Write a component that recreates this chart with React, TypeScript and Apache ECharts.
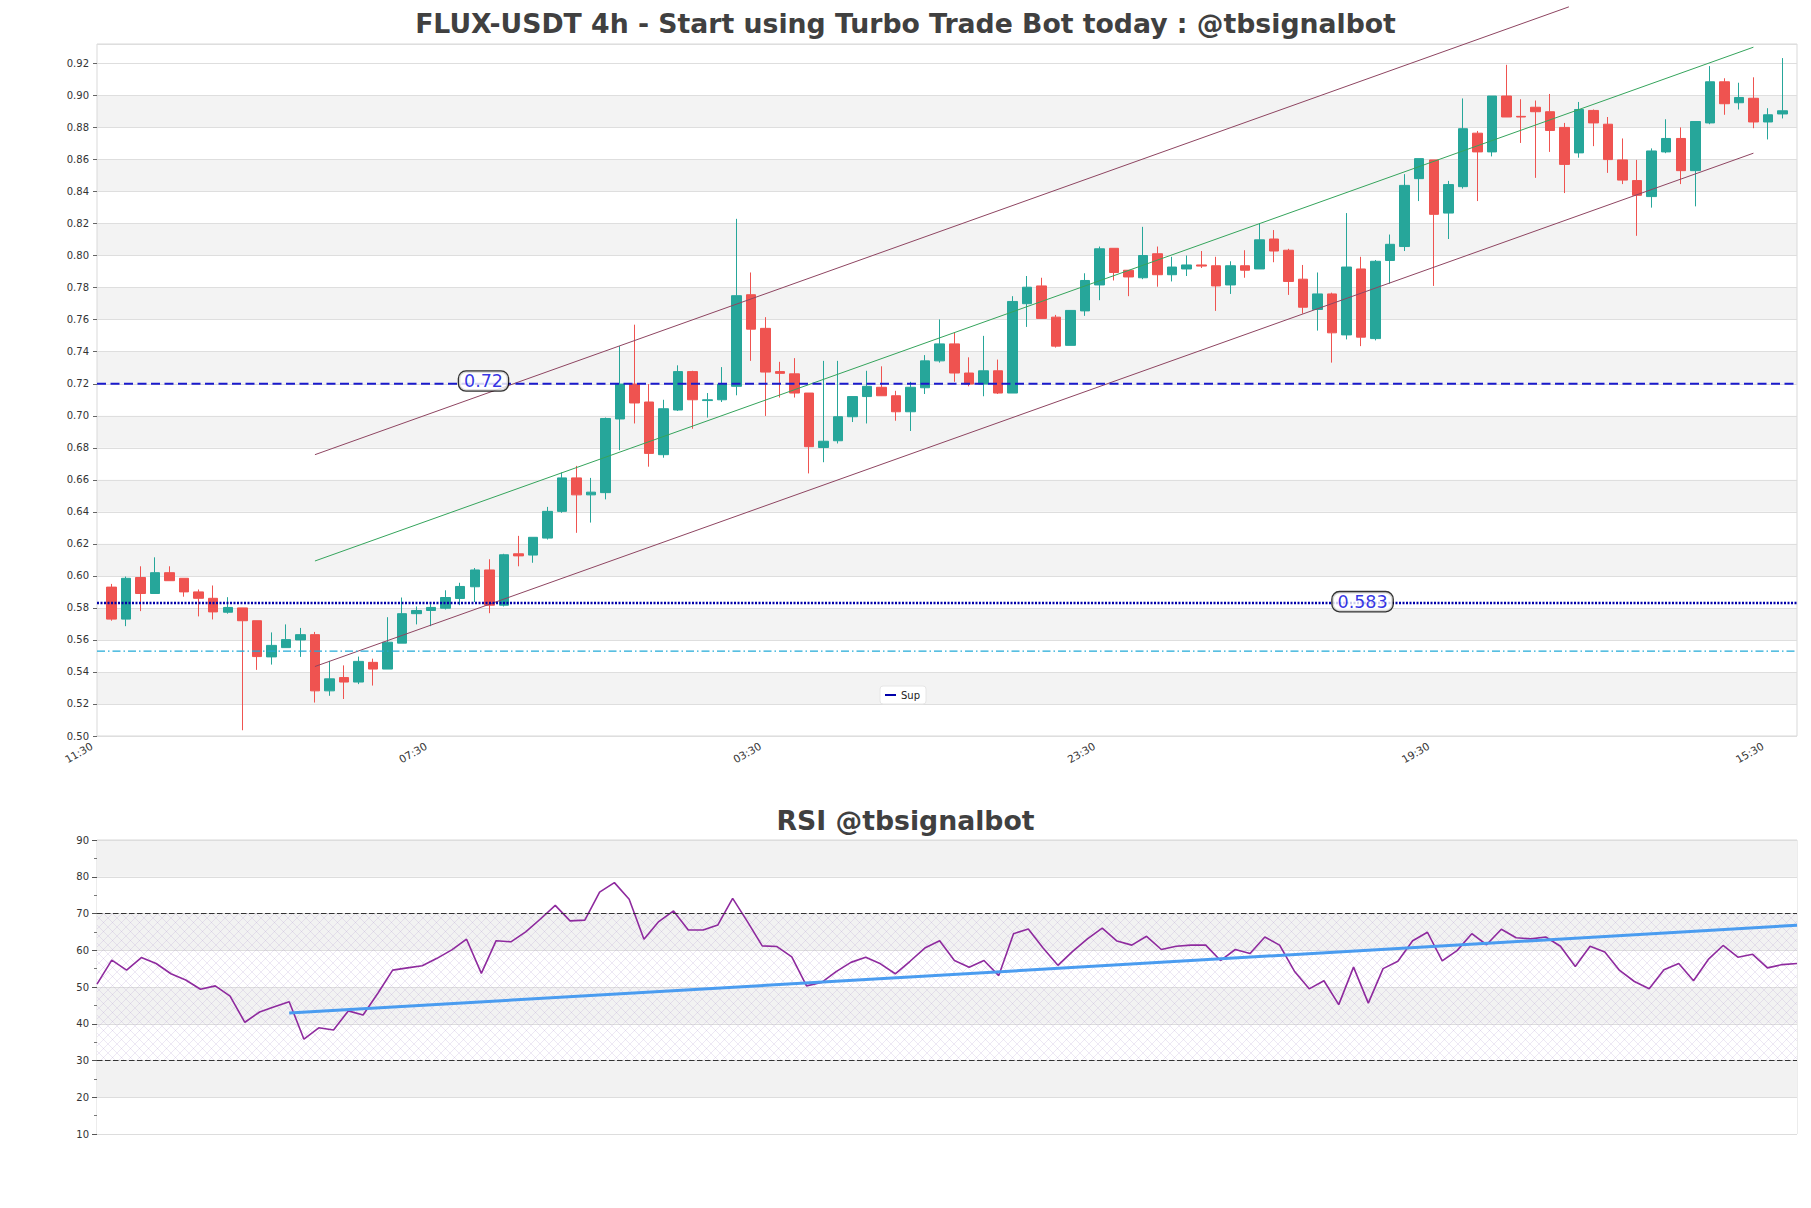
import React, { useEffect, useRef } from "react";
import * as echarts from "echarts";

const TITLE = "FLUX-USDT 4h - Start using Turbo Trade Bot today : @tbsignalbot";
const RSI_TITLE = "RSI @tbsignalbot";

// x axis: 118 slots (slot 0 and 117 are padding), one 4h candle per slot, label every 23 slots
const TIME_CYCLE = ["11:30", "15:30", "19:30", "23:30", "03:30", "07:30"];
const SLOT_COUNT = 118;
const LABEL_INTERVAL = 22;

const opens = [
  0.593, 0.573, 0.599, 0.589, 0.602, 0.5985, 0.59, 0.586, 0.5773, 0.58,
  0.572, 0.5494, 0.5552, 0.56, 0.5633, 0.5282, 0.5365, 0.5337, 0.546, 0.5418,
  0.558, 0.5764, 0.5784, 0.5798, 0.5859, 0.5932, 0.6037, 0.5817, 0.6138, 0.613,
  0.6236, 0.6403, 0.6612, 0.6506, 0.652, 0.698, 0.7198, 0.7086, 0.6757, 0.7036,
  0.7276, 0.7095, 0.71, 0.7184, 0.7756, 0.7546, 0.7276, 0.7262, 0.7142, 0.6802,
  0.6844, 0.6994, 0.712, 0.7178, 0.7125, 0.7025, 0.7175, 0.7343, 0.7449, 0.7267,
  0.7198, 0.7281, 0.7142, 0.77, 0.7811, 0.7616, 0.744, 0.7655, 0.7817, 0.8046,
  0.7909, 0.7862, 0.8012, 0.7881, 0.7917, 0.7942, 0.7937, 0.7817, 0.7937, 0.7917,
  0.8104, 0.8034, 0.7853, 0.7664, 0.7761, 0.7505, 0.7917, 0.7482, 0.797, 0.8057,
  0.8481, 0.8598, 0.8266, 0.8431, 0.8765, 0.8648, 0.8997, 0.887, 0.8927, 0.8899,
  0.8801, 0.8642, 0.8907, 0.8821, 0.8598, 0.8469, 0.8369, 0.8648, 0.8732, 0.8531,
  0.8829, 0.9086, 0.8955, 0.8983, 0.8835, 0.8885,
];
const closes = [
  0.573, 0.5985, 0.589, 0.602, 0.597, 0.59, 0.586, 0.5775, 0.5803, 0.572,
  0.5496, 0.5566, 0.5602, 0.5633, 0.5282, 0.5357, 0.5337, 0.5466, 0.5418, 0.5586,
  0.5764, 0.5784, 0.5803, 0.5865, 0.5934, 0.6037, 0.5817, 0.6132, 0.6125, 0.6241,
  0.6403, 0.6612, 0.6506, 0.6523, 0.6983, 0.7198, 0.708, 0.6765, 0.7044, 0.7276,
  0.71, 0.71, 0.7198, 0.775, 0.7541, 0.7273, 0.7265, 0.7142, 0.6807, 0.6841,
  0.6994, 0.712, 0.7184, 0.7125, 0.7025, 0.7178, 0.7343, 0.7449, 0.7267, 0.7198,
  0.7281, 0.7142, 0.7714, 0.7803, 0.7608, 0.7435, 0.7658, 0.7845, 0.8043, 0.7895,
  0.7867, 0.8001, 0.7881, 0.7929, 0.7942, 0.7935, 0.7811, 0.7937, 0.7909, 0.8099,
  0.8029, 0.7839, 0.7678, 0.7761, 0.7518, 0.7929, 0.7491, 0.7965, 0.8071, 0.8439,
  0.8606, 0.8258, 0.8444, 0.8793, 0.8648, 0.8997, 0.8866, 0.8866, 0.8899, 0.8782,
  0.857, 0.8913, 0.8829, 0.86, 0.8472, 0.8377, 0.8654, 0.8732, 0.8531, 0.8838,
  0.9086, 0.8949, 0.8988, 0.8835, 0.888, 0.8905,
];
const lows = [
  0.572, 0.5686, 0.578, 0.589, 0.597, 0.587, 0.5747, 0.5728, 0.5764, 0.5036,
  0.5413, 0.5446, 0.5552, 0.5494, 0.5209, 0.5251, 0.5231, 0.5324, 0.5315, 0.5418,
  0.558, 0.5697, 0.5686, 0.579, 0.5817, 0.5837, 0.5767, 0.5809, 0.606, 0.6082,
  0.6227, 0.6394, 0.6269, 0.6333, 0.6478, 0.6785, 0.6952, 0.6682, 0.6738, 0.703,
  0.6919, 0.6989, 0.7086, 0.7128, 0.7343, 0.6999, 0.7114, 0.7114, 0.664, 0.671,
  0.6827, 0.6961, 0.6952, 0.7125, 0.6969, 0.6905, 0.7136, 0.7332, 0.7212, 0.7184,
  0.7122, 0.7136, 0.7142, 0.7555, 0.7608, 0.7426, 0.744, 0.7624, 0.7722, 0.7845,
  0.7747, 0.7853, 0.7806, 0.7839, 0.7873, 0.7923, 0.7655, 0.7761, 0.7862, 0.7917,
  0.7959, 0.7755, 0.7638, 0.7532, 0.7332, 0.7477, 0.7435, 0.7471, 0.7825, 0.8029,
  0.8341, 0.7811, 0.8104, 0.8419, 0.8341, 0.862, 0.8866, 0.8704, 0.8486, 0.8648,
  0.8391, 0.8612, 0.8684, 0.8517, 0.8447, 0.8124, 0.83, 0.864, 0.8447, 0.8308,
  0.8821, 0.888, 0.8913, 0.8796, 0.8726, 0.8857,
];
const highs = [
  0.595, 0.5996, 0.606, 0.6116, 0.606, 0.5985, 0.5915, 0.594, 0.5867, 0.58,
  0.572, 0.5647, 0.5697, 0.5675, 0.565, 0.5469, 0.5441, 0.5496, 0.5483, 0.5742,
  0.5865, 0.5809, 0.5826, 0.591, 0.5957, 0.6049, 0.6104, 0.6138, 0.625, 0.6241,
  0.6431, 0.6646, 0.6687, 0.6612, 0.6989, 0.7435, 0.7569, 0.7198, 0.71, 0.7315,
  0.7281, 0.7142, 0.7304, 0.823, 0.7895, 0.7616, 0.7337, 0.736, 0.7142, 0.7343,
  0.7343, 0.712, 0.7281, 0.7309, 0.7156, 0.7212, 0.7379, 0.7602, 0.7518, 0.7365,
  0.7499, 0.7351, 0.7747, 0.7873, 0.7862, 0.763, 0.7658, 0.789, 0.8057, 0.8046,
  0.7909, 0.818, 0.8057, 0.7993, 0.8001, 0.8029, 0.7993, 0.7965, 0.8034, 0.8202,
  0.816, 0.8043, 0.7942, 0.7895, 0.7769, 0.8266, 0.7993, 0.7973, 0.8132, 0.8509,
  0.8606, 0.8598, 0.8467, 0.8982, 0.8779, 0.8997, 0.9192, 0.8977, 0.8969, 0.901,
  0.8829, 0.896, 0.8913, 0.8866, 0.8732, 0.8598, 0.867, 0.8852, 0.8801, 0.8838,
  0.9184, 0.9108, 0.908, 0.9114, 0.8921, 0.9234,
];

const rsiValues = [
  50.8, 57.3, 54.6, 58.0, 56.4, 53.6, 51.9, 49.4, 50.3, 47.5,
  40.4, 43.2, 44.6, 46.0, 35.8, 38.9, 38.3, 43.5, 42.4, 48.3,
  54.6, 55.2, 55.8, 57.8, 60.1, 63.0, 53.7, 62.6, 62.3, 65.0,
  68.5, 72.2, 68.0, 68.2, 75.8, 78.4, 73.9, 63.0, 67.8, 70.7,
  65.5, 65.5, 66.9, 74.1, 67.8, 61.2, 61.0, 58.2, 50.3, 51.2,
  54.2, 56.7, 58.1, 56.3, 53.6, 57.0, 60.6, 62.6, 57.2, 55.4,
  57.2, 53.1, 64.5, 65.8, 60.6, 55.9, 59.7, 63.1, 66.0, 62.5,
  61.4, 63.8, 60.2, 61.1, 61.4, 61.4, 57.2, 60.2, 59.1, 63.6,
  61.4, 54.3, 49.5, 51.7, 45.2, 55.4, 45.6, 55.0, 57.0, 62.6,
  64.9, 57.1, 59.9, 64.5, 61.5, 65.7, 63.4, 63.1, 63.6, 61.1,
  55.6, 61.1, 59.5, 54.5, 51.5, 49.5, 54.7, 56.4, 51.7, 57.5,
  61.3, 58.1, 58.9, 55.2, 56.1, 56.4,
];

// price axis
const PRICE_MIN = 0.5;
const PRICE_MAX = 0.9322;
const PRICE_STEP = 0.02;
const PRICE_TOP_TICK = 0.92;
// rsi axis
const RSI_MIN = 10;
const RSI_MAX = 90;
const RSI_STEP = 10;
const RSI_BOUNDS = [30, 70];

// levels
const resistanceLevel = 0.72;
const supportLevel = 0.583;
const lowerLevel = 0.553;
const resistanceTag = { text: "0.72", slot: 26.6, value: 0.7217 };
const supportTag = { text: "0.583", slot: 87.1, value: 0.5839 };

// channel and trend lines: [slot, value]
const channelUpper = [[15, 0.6757], [101.3, 0.9554]];
const channelMiddle = [[15, 0.6093], [114, 0.9302]];
const channelLower = [[15, 0.5434], [114, 0.864]];
const rsiTrend = [[13, 42.9], [115, 66.8]];

const FONT = "DejaVu Sans";

export default function App() {
  const ref = useRef<HTMLDivElement>(null);

  useEffect(() => {
    if (!ref.current) return;
    const chart = echarts.init(ref.current, undefined, { renderer: "svg" });

    // crosshatch pattern for the RSI 30-70 zone
    const tile = document.createElement("canvas");
    tile.width = 9;
    tile.height = 9;
    const ctx = tile.getContext("2d");
    if (ctx) {
      ctx.strokeStyle = "rgba(170,145,200,0.3)";
      ctx.lineWidth = 0.7;
      ctx.beginPath();
      ctx.moveTo(-1, -1);
      ctx.lineTo(10, 10);
      ctx.moveTo(10, -1);
      ctx.lineTo(-1, 10);
      ctx.stroke();
    }
    const hatch: any = { image: tile, repeat: "repeat", imageWidth: 9, imageHeight: 9 };

    const lastSlot = SLOT_COUNT - 1;
    const categories = Array.from({ length: SLOT_COUNT }, (_, i) => TIME_CYCLE[i % TIME_CYCLE.length]);
    const EMPTY = ["-", "-", "-", "-"];
    const candleData = [
      EMPTY,
      ...opens.map((o, i) => [o, closes[i], lows[i], highs[i]]),
      EMPTY,
    ];
    const rsiData = rsiValues.map((v, i) => [i, v]);

    const priceBands: any[] = [];
    for (let k = 1; PRICE_MIN + (k + 1) * PRICE_STEP <= PRICE_TOP_TICK + 1e-9; k += 2) {
      priceBands.push([
        { yAxis: +(PRICE_MIN + k * PRICE_STEP).toFixed(4) },
        { yAxis: +(PRICE_MIN + (k + 1) * PRICE_STEP).toFixed(4) },
      ]);
    }

    const flatLine = (v: number) => [[0, v], [lastSlot, v]];

    const tagLabel = (text: string) => ({
      show: true,
      position: "inside",
      formatter: text,
      color: "#0000dd",
      fontSize: 17.5,
      fontFamily: FONT,
      backgroundColor: "#ffffff",
      borderColor: "#000000",
      borderWidth: 1.3,
      borderRadius: 7,
      padding: [1, 5, 0, 5],
      lineHeight: 18,
    });

    const option: any = {
      animation: false,
      backgroundColor: "#ffffff",
      textStyle: { fontFamily: FONT },
      title: [
        {
          text: TITLE,
          left: "center",
          top: 10,
          padding: 0,
          textStyle: { fontFamily: FONT, fontSize: 26.7, fontWeight: "bold", color: "#404040" },
        },
        {
          text: RSI_TITLE,
          left: "center",
          top: 807,
          padding: 0,
          textStyle: { fontFamily: FONT, fontSize: 26.7, fontWeight: "bold", color: "#404040" },
        },
      ],
      legend: {
        data: [{ name: "Sup", icon: "rect" }],
        left: 880,
        top: 686,
        orient: "horizontal",
        padding: [4, 6, 4, 5],
        itemWidth: 11,
        itemHeight: 2,
        itemGap: 5,
        backgroundColor: "#ffffff",
        borderColor: "#e6e6e6",
        borderWidth: 1,
        borderRadius: 3,
        textStyle: { fontSize: 10, color: "#222", fontFamily: FONT },
        selectedMode: false,
      },
      grid: [
        { left: 97, top: 44, width: 1700, height: 692, show: true, borderColor: "#d9d9d9", borderWidth: 1, backgroundColor: "transparent", z: 2 },
        { left: 97, top: 840, width: 1700, height: 294, show: true, borderColor: "#d9d9d9", borderWidth: 1, backgroundColor: "transparent" },
      ],
      xAxis: [
        {
          type: "category",
          gridIndex: 0,
          data: categories,
          boundaryGap: false,
          axisLine: { show: false },
          axisTick: { show: false },
          axisLabel: {
            interval: LABEL_INTERVAL,
            rotate: 30,
            fontSize: 10.5,
            color: "#333",
            fontFamily: FONT,
            margin: 6,
            padding: [0, 6, 0, 0],
          },
          splitLine: { show: false },
        },
        { type: "value", gridIndex: 0, min: 0, max: lastSlot, show: false },
        { type: "value", gridIndex: 1, min: 0, max: rsiValues.length - 1, show: false },
      ],
      yAxis: [
        {
          type: "value",
          gridIndex: 0,
          min: PRICE_MIN,
          max: PRICE_MAX,
          interval: PRICE_STEP,
          z: 2,
          axisLine: { show: false },
          axisTick: { show: true, length: 4, lineStyle: { color: "#666" } },
          axisLabel: {
            fontSize: 10,
            color: "#333",
            fontFamily: FONT,
            margin: 8,
            showMaxLabel: false,
            formatter: (v: number) => (v > PRICE_TOP_TICK + 1e-6 ? "" : v.toFixed(2)),
          },
          splitLine: { show: true, lineStyle: { color: "#dedede", width: 1 } },
        },
        {
          type: "value",
          gridIndex: 1,
          min: RSI_MIN,
          max: RSI_MAX,
          interval: RSI_STEP,
          axisLine: { show: false },
          axisTick: { show: true, length: 5, lineStyle: { color: "#555" } },
          minorTick: { show: true, splitNumber: 2, length: 3, lineStyle: { color: "#777" } },
          axisLabel: { fontSize: 10, color: "#333", fontFamily: FONT, margin: 8 },
          splitLine: { show: true, lineStyle: { color: "#dddddd", width: 1 } },
          splitArea: { show: true, areaStyle: { color: ["#ffffff", "#f2f2f2"] } },
        },
      ],
      series: [
        {
          name: "bands",
          type: "line",
          xAxisIndex: 1,
          yAxisIndex: 0,
          z: 1,
          data: [[0, PRICE_MIN]],
          showSymbol: false,
          symbol: "none",
          silent: true,
          lineStyle: { opacity: 0 },
          markArea: {
            silent: true,
            itemStyle: { color: "#f3f3f3", borderWidth: 0 },
            label: { show: false },
            data: priceBands,
          },
        },
        {
          name: "FLUX",
          type: "candlestick",
          xAxisIndex: 0,
          yAxisIndex: 0,
          z: 3,
          barWidth: 10,
          data: candleData,
          itemStyle: {
            color: "#26a69a",
            color0: "#ef5350",
            borderColor: "#26a69a",
            borderColor0: "#ef5350",
            borderWidth: 1,
          },
          emphasis: { disabled: true },
        },
        {
          name: "channelUpper",
          type: "line",
          xAxisIndex: 1,
          yAxisIndex: 0,
          z: 4,
          clip: false,
          data: channelUpper,
          symbol: "none",
          silent: true,
          lineStyle: { color: "#8e4561", width: 1 },
        },
        {
          name: "channelMiddle",
          type: "line",
          xAxisIndex: 1,
          yAxisIndex: 0,
          z: 4,
          clip: false,
          data: channelMiddle,
          symbol: "none",
          silent: true,
          lineStyle: { color: "#35a45c", width: 1 },
        },
        {
          name: "channelLower",
          type: "line",
          xAxisIndex: 1,
          yAxisIndex: 0,
          z: 4,
          data: channelLower,
          symbol: "none",
          silent: true,
          lineStyle: { color: "#8e4561", width: 1 },
        },
        {
          name: "Res",
          type: "line",
          xAxisIndex: 1,
          yAxisIndex: 0,
          z: 4,
          data: flatLine(resistanceLevel),
          symbol: "none",
          silent: true,
          lineStyle: { color: "#1a1acc", width: 1.8, type: [9, 4.5] },
        },
        {
          name: "Sup",
          type: "line",
          xAxisIndex: 1,
          yAxisIndex: 0,
          z: 4,
          color: "#0000aa",
          data: flatLine(supportLevel),
          symbol: "none",
          silent: true,
          itemStyle: { color: "#0000aa" },
          lineStyle: { color: "#0000aa", width: 2.5, type: [2, 1.5] },
        },
        {
          name: "Low",
          type: "line",
          xAxisIndex: 1,
          yAxisIndex: 0,
          z: 4,
          data: flatLine(lowerLevel),
          symbol: "none",
          silent: true,
          lineStyle: { color: "#22aad8", width: 1.2, type: [8, 3, 1.5, 3] },
        },
        {
          name: "tags",
          type: "scatter",
          xAxisIndex: 1,
          yAxisIndex: 0,
          z: 10,
          symbolSize: 1,
          itemStyle: { color: "rgba(0,0,0,0)" },
          silent: true,
          data: [
            { value: [resistanceTag.slot, resistanceTag.value], label: tagLabel(resistanceTag.text) },
            { value: [supportTag.slot, supportTag.value], label: tagLabel(supportTag.text) },
          ],
        },
        {
          name: "rsiZone",
          type: "line",
          xAxisIndex: 2,
          yAxisIndex: 1,
          z: 1,
          data: [[0, RSI_BOUNDS[0]]],
          symbol: "none",
          silent: true,
          lineStyle: { opacity: 0 },
          markArea: {
            silent: true,
            itemStyle: { color: hatch, borderWidth: 0 },
            label: { show: false },
            data: [[{ yAxis: RSI_BOUNDS[0] }, { yAxis: RSI_BOUNDS[1] }]],
          },
          markLine: {
            silent: true,
            symbol: ["none", "none"],
            label: { show: false },
            lineStyle: { color: "#333", width: 1.2, type: [5.5, 2.5] },
            data: RSI_BOUNDS.map((b) => ({ yAxis: b })),
          },
        },
        {
          name: "RSI",
          type: "line",
          xAxisIndex: 2,
          yAxisIndex: 1,
          z: 3,
          data: rsiData,
          symbol: "none",
          silent: true,
          lineStyle: { color: "#8e2a9e", width: 1.6 },
        },
        {
          name: "rsiTrend",
          type: "line",
          xAxisIndex: 2,
          yAxisIndex: 1,
          z: 4,
          data: rsiTrend,
          symbol: "none",
          silent: true,
          lineStyle: { color: "#4a9cf0", width: 3 },
        },
      ],
    };

    chart.setOption(option);
    return () => chart.dispose();
  }, []);

  return (
    <div
      ref={ref}
      style={{ position: "fixed", left: 0, top: 0, width: 1811, height: 1208, background: "#ffffff" }}
    />
  );
}
